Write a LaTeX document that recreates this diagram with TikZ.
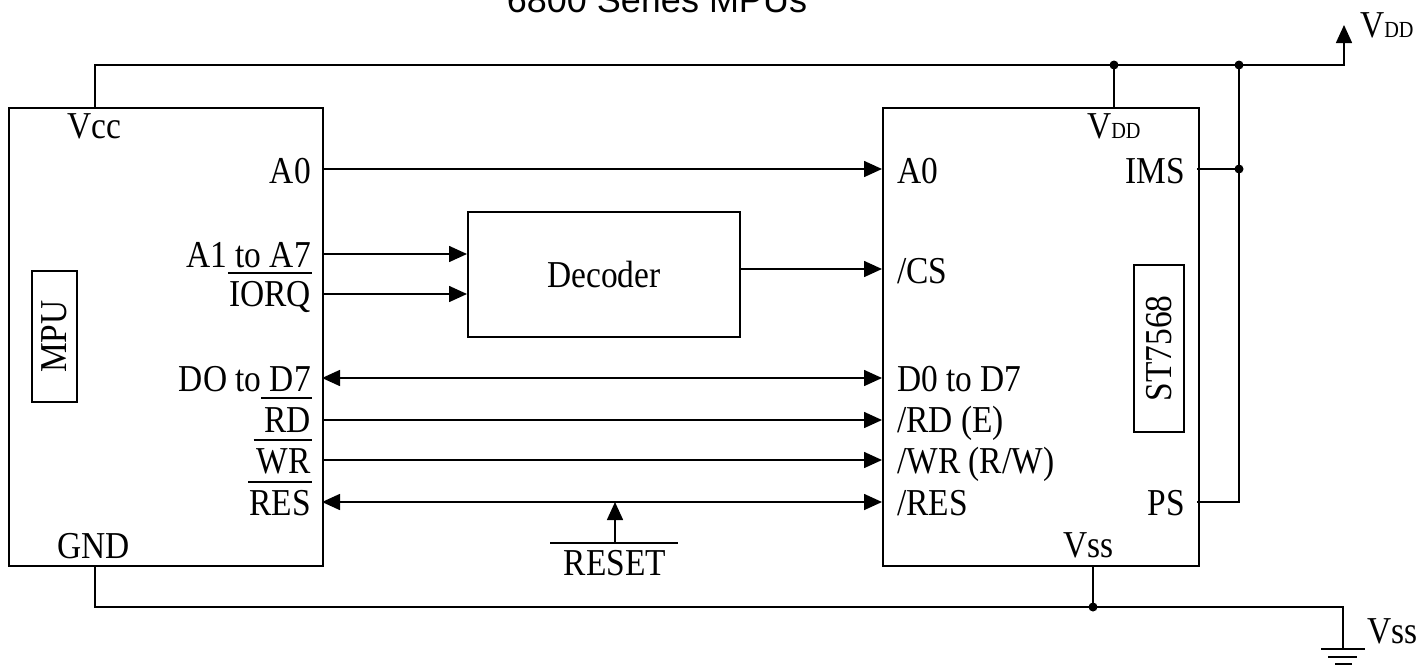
\documentclass[tikz,border=0pt]{standalone}
\usepackage{fontspec}
\setmainfont{Liberation Serif}[FakeStretch=0.88]
\newfontfamily\titlesans{Liberation Sans}
\usetikzlibrary{arrows.meta}
\newcommand\pinfont{\fontsize{38pt}{42pt}\selectfont}
\newcommand\subcapfont{\fontsize{23pt}{25pt}\selectfont}
\begin{document}
\begin{tikzpicture}[x=1pt,y=-1pt,
  wire/.style={line width=1.6pt},
  arr/.style={wire,-{Triangle[length=18pt,width=16pt]}},
  darr/.style={wire,{Triangle[length=18pt,width=16pt]}-{Triangle[length=18pt,width=16pt]}},
  box/.style={draw,line width=1.6pt,inner sep=0,anchor=north west},
  tagbox/.style={draw,line width=1.2pt,inner sep=0,rotate=90,font=\pinfont},
  lbl/.style={inner sep=0,font=\pinfont},
  dot/.style={circle,fill,inner sep=0,minimum size=9pt}]
\useasboundingbox (0,0) rectangle (1416,665);
\fill[white] (0,0) rectangle (1416,665);

% title
\node[inner sep=0,anchor=base,font=\titlesans\fontsize{36pt}{40pt}\selectfont] (title) at (657,12) {6800 Series MPUs};

% blocks
\node[box,minimum width=314pt,minimum height=458pt] (mpu) at (8,107) {};
\node[box,minimum width=316pt,minimum height=458pt] (chip) at (882,107) {};
\node[box,minimum width=272pt,minimum height=125pt,font=\pinfont] (dec) at (467,211) {Decoder};
\node[tagbox,minimum width=131pt,minimum height=45pt] (mputag) at (54.5,336.5) {MPU};
\node[tagbox,minimum width=167pt,minimum height=50pt] (chiptag) at (1159,348.5) {ST7568};

% MPU labels
\node[lbl,anchor=base west] (lvcc) at (67,138) {Vcc};
\node[lbl,anchor=base west] (lgnd) at (57,558) {GND};
\node[lbl,anchor=base east] (lA0) at (311,183) {A0};
\node[lbl,anchor=base east] (lA1) at (311,267) {A1 to A7};
\node[lbl,anchor=base east] (lIO) at (311,306) {IORQ};
\node[lbl,anchor=base east] (lD) at (311,391) {DO to D7};
\node[lbl,anchor=base east] (lRD) at (311,432) {RD};
\node[lbl,anchor=base east] (lWR) at (311,473) {WR};
\node[lbl,anchor=base east] (lRES) at (311,515) {RES};

% chip labels
\node[lbl,anchor=base west] (cvdd) at (1087,138) {V{\subcapfont DD}};
\node[lbl,anchor=base west] (cvss) at (1063,557) {Vss};
\node[lbl,anchor=base west] (cA0l) at (897,183) {A0};
\node[lbl,anchor=base west] (cCSl) at (897,283) {/CS};
\node[lbl,anchor=base west] (cDl) at (897,391) {D0 to D7};
\node[lbl,anchor=base west] (cRDl) at (897,432) {/RD (E)};
\node[lbl,anchor=base west] (cWRl) at (897,473) {/WR (R/W)};
\node[lbl,anchor=base west] (cRESl) at (897,515) {/RES};
\node[lbl,anchor=base east] (cIMS) at (1185,183) {IMS};
\node[lbl,anchor=base east] (cPS) at (1185,515) {PS};

% supply labels
\node[lbl,anchor=base west] (vddout) at (1360,37) {V{\subcapfont DD}};
\node[lbl,anchor=base west] (vssout) at (1367,643) {Vss};
\node[lbl,anchor=base] (reset) at (615,575) {RESET};

% overlines
\draw[wire] ([xshift=-1pt]lIO.west |- 0,273) -- ([xshift=1pt]lIO.east |- 0,273);
\draw[wire] ([xshift=-3pt]lRD.west |- 0,398) -- ([xshift=1pt]lRD.east |- 0,398);
\draw[wire] ([xshift=-3pt]lWR.west |- 0,440) -- ([xshift=1pt]lWR.east |- 0,440);
\draw[wire] ([xshift=-1pt]lRES.west |- 0,482) -- ([xshift=1pt]lRES.east |- 0,482);
\coordinate (rstL) at (550,543);
\coordinate (rstR) at (678,543);
\draw[wire] (rstL) -- (rstR);

% pin coordinates
\coordinate (mA0) at (322,169);  \coordinate (cA0) at (882,169);
\coordinate (mA1) at (322,254);
\coordinate (mIO) at (322,294);
\coordinate (cCS) at (882,269);
\coordinate (mD) at (322,378);   \coordinate (cD) at (882,378);
\coordinate (mRD) at (322,420);  \coordinate (cRD) at (882,420);
\coordinate (mWR) at (322,460);  \coordinate (cWR) at (882,460);
\coordinate (mRES) at (322,502); \coordinate (cRES) at (882,502);
\coordinate (rstpin) at (615,543);

% signal connectors
\draw[arr] (mA0) -- (cA0);
\draw[arr] (mA1) -- (dec.west |- mA1);
\draw[arr] (mIO) -- (dec.west |- mIO);
\draw[arr] (dec.east |- cCS) -- (cCS);
\draw[darr] (mD) -- (cD);
\draw[arr] (mRD) -- (cRD);
\draw[arr] (mWR) -- (cWR);
\draw[darr] (mRES) -- (cRES);
\draw[arr] (rstpin) -- (rstpin |- mRES);

% power rails
\coordinate (vccpin) at (95,107);
\coordinate (vddpin) at (1114,107);
\coordinate (imspin) at (1197,169);
\coordinate (pspin) at (1197,502);
\coordinate (gndpin) at (95,565);
\coordinate (vsspin) at (1093,565);
\coordinate (vddtip) at (1344,25);
\coordinate (gndsym) at (1343,649);

\draw[arr] (vccpin) -- (95,65) -- (vddtip |- 0,65) -- (vddtip);
\draw[wire] (vddpin) -- (vddpin |- 0,65);
\draw[wire] (imspin) -- (1239,169);
\draw[wire] (pspin) -- (1239,502) -- (1239,65);
\node[dot] at (vddpin |- 0,65) {};
\node[dot] at (1239,65) {};
\node[dot] at (1239,169) {};

\draw[wire] (gndpin) -- (95,607) -- (gndsym |- 0,607) -- (gndsym);
\draw[wire] (vsspin) -- (vsspin |- 0,607);
\node[dot] at (vsspin |- 0,607) {};

% ground symbol
\draw[wire] ([xshift=-22pt]gndsym) -- ([xshift=22pt]gndsym);
\draw[wire] ([xshift=-15pt,yshift=-8pt]gndsym) -- ([xshift=14pt,yshift=-8pt]gndsym);
\draw[wire] ([xshift=-8pt,yshift=-15pt]gndsym) -- ([xshift=9pt,yshift=-15pt]gndsym);
\end{tikzpicture}
\end{document}
